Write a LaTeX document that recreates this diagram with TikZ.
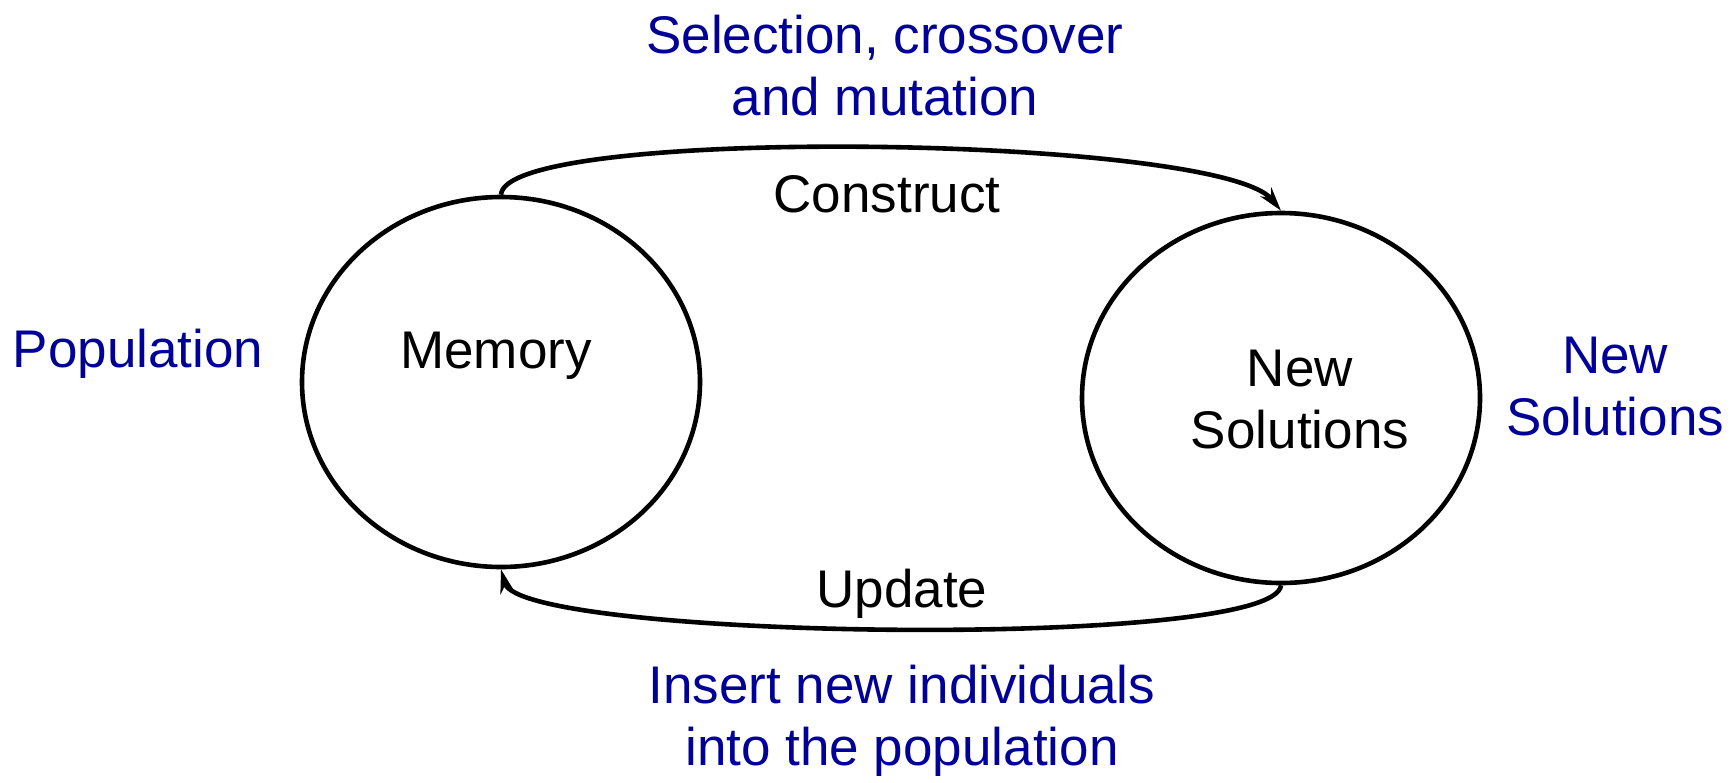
\documentclass[tikz,border=0pt]{standalone}
\usepackage{fontspec}
\setmainfont{Liberation Sans}
\usepackage{tikz}
\usetikzlibrary{arrows.meta,shapes.geometric}
\definecolor{labelblue}{RGB}{0,0,153}

\begin{document}
\begin{tikzpicture}[x=0.5pt, y=-0.5pt, >={Stealth[length=12pt,width=7pt]}, line width=2.3pt]
	\tikzstyle{every node}=[font=\fontsize{26.5}{31}\selectfont, align=center]
	\tikzstyle{state}=[draw, ellipse, minimum width=199pt, minimum height=185pt]
	\tikzstyle{note}=[text=labelblue]
	\useasboundingbox (0,0) rectangle (1735,782);
	% % Nodes
	% memory
	\node[state] (mem) at (501,382) {};
	\node (memtxt) at (496,356) {Memory};
	% new solutions
	\node[state] (sol) at (1281,398) {};
	\node (soltxt) at (1300,400) {New\\Solutions};
	% blue notes
	\node[note] (pop) at (138,354) {Population};
	\node[note] (newsol) at (1615,387) {New\\Solutions};
	\node[note] (sel) at (885,66) {Selection, crossover\\and mutation};
	\node[note] (ins) at (902,721) {Insert new individuals\\into the population};
	% arrow labels
	\node (cons) at (887,194) {Construct};
	\node (upd) at (902,594) {Update};
	% % Connectors
	\draw[->] (mem.north) .. controls (505,125) and (1220,135) .. (sol.north);
	\draw[->] (sol.south) .. controls (1275,650) and (520,640) .. (mem.south);
\end{tikzpicture}
\end{document}
